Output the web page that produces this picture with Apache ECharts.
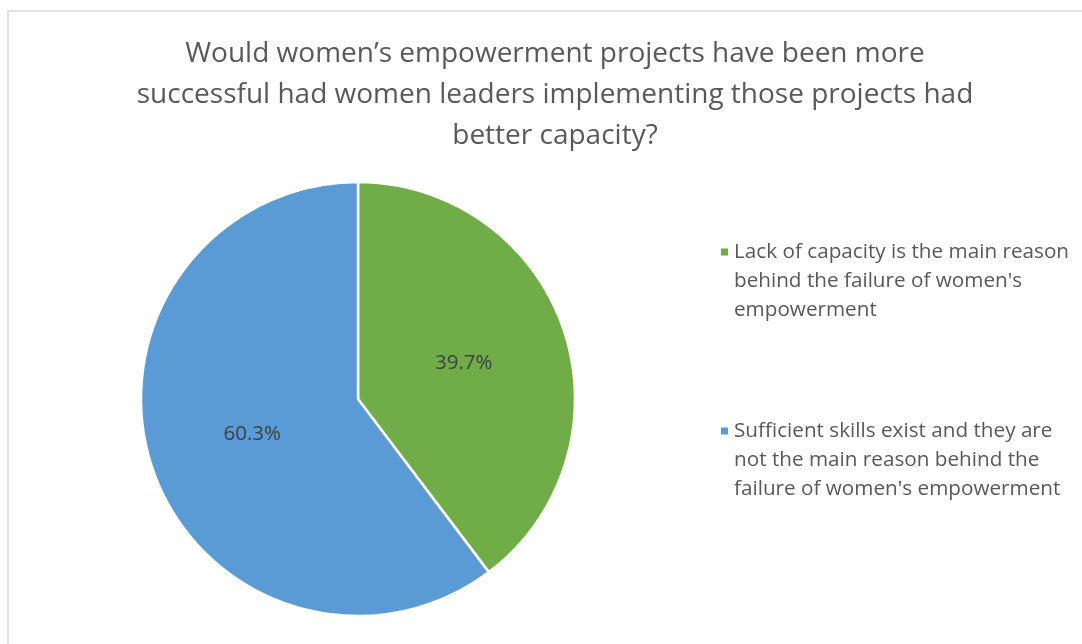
<!DOCTYPE html>
<html><head><meta charset="utf-8">
<script src="https://cdn.jsdelivr.net/npm/echarts@6/dist/echarts.min.js"></script>
<style>html,body{margin:0;padding:0;background:#fff}#c{width:1082px;height:644px}</style>
</head><body><div id="c"></div>
<script>
const titleText = "Would women\u2019s empowerment projects have been more\nsuccessful had women leaders implementing those projects had\nbetter capacity?";
const categories = [
  "Lack of capacity is the main reason behind the failure of women's empowerment",
  "Sufficient skills exist and they are not the main reason behind the failure of women's empowerment"
];
const legendLabels = [
  "Lack of capacity is the main reason\nbehind the failure of women's\nempowerment",
  "Sufficient skills exist and they are\nnot the main reason behind the\nfailure of women's empowerment"
];
const values = [39.7, 60.3];
const colors = ['#70ad47', '#5b9bd5'];

const chart = echarts.init(document.getElementById('c'));
const font = 'Open Sans';
const legendCommon = {
  orient: 'vertical', left: 714, icon: 'rect', itemWidth: 9, itemHeight: 9, itemGap: 14,
  selectedMode: false,
  textStyle: { fontFamily: font, fontSize: 20.7, color: '#595959', lineHeight: 29.2 },
  formatter: function (n) { return ' \n \n' + legendLabels[categories.indexOf(n)]; }
};
chart.setOption({
  animation: false,
  title: {
    text: titleText, left: 550, top: 29, textAlign: 'center',
    textStyle: { fontFamily: font, fontSize: 28, fontWeight: 'normal', color: '#595959', lineHeight: 41 }
  },
  graphic: [{
    type: 'rect', shape: { x: 8, y: 11, width: 1100, height: 700 },
    style: { fill: 'none', stroke: '#d9d9d9', lineWidth: 1.5 }, silent: true
  }],
  legend: [
    Object.assign({}, legendCommon, { top: 174, data: [categories[0]] }),
    Object.assign({}, legendCommon, { top: 353, data: [categories[1]] })
  ],
  series: [{
    type: 'pie', center: [358, 399], radius: [0, 217], startAngle: 90, clockwise: true,
    itemStyle: { borderColor: '#fff', borderWidth: 2.5 },
    label: { show: true, position: 'inside', formatter: function (p) { return p.value.toFixed(1) + '%'; },
      fontFamily: font, fontSize: 20.5, color: '#404040' },
    labelLine: { show: false },
    data: categories.map(function (c, i) { return { name: c, value: values[i], itemStyle: { color: colors[i] } }; })
  }]
});
</script></body></html>
